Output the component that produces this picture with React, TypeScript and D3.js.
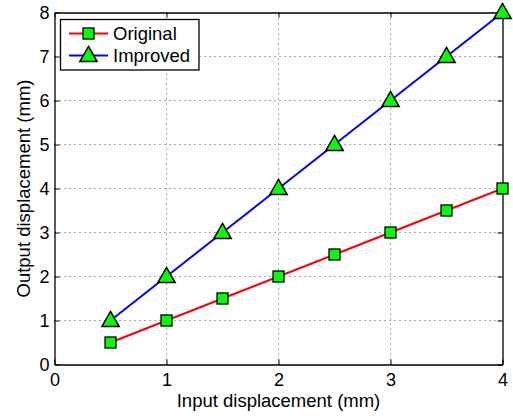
import React, { useEffect, useRef } from 'react';
import * as d3 from 'd3';

const inputs = [0.5, 1, 1.5, 2, 2.5, 3, 3.5, 4];
const original = [0.5, 1, 1.5, 2, 2.5, 3, 3.5, 4];
const improved = [1, 2, 3, 4, 5, 6, 7, 8];
const xTicks = [0, 1, 2, 3, 4];
const yTicks = [0, 1, 2, 3, 4, 5, 6, 7, 8];

const W = 513;
const H = 416;
const m = { left: 54.5, right: 10.5, top: 12.5, bottom: 51.5 };
const font = 'Liberation Sans, Arial, sans-serif';

const App = () => {
  const ref = useRef<SVGSVGElement>(null);

  useEffect(() => {
    const svg = d3.select(ref.current);
    svg.selectAll('*').remove();

    const x = d3.scaleLinear().domain([0, 4]).range([m.left, W - m.right]);
    const y = d3.scaleLinear().domain([0, 8]).range([H - m.bottom, m.top]);
    const g = svg.append('g');

    // dotted grid
    g.selectAll('line.gx').data(xTicks.slice(1, -1)).enter().append('line')
      .attr('x1', d => x(d)).attr('x2', d => x(d))
      .attr('y1', y(0)).attr('y2', y(8))
      .attr('stroke', '#555').attr('stroke-width', 1).attr('stroke-dasharray', '1,4');
    g.selectAll('line.gy').data(yTicks.slice(1, -1)).enter().append('line')
      .attr('y1', d => y(d)).attr('y2', d => y(d))
      .attr('x1', x(0)).attr('x2', x(4))
      .attr('stroke', '#555').attr('stroke-width', 1).attr('stroke-dasharray', '1,4');

    // axes (ticks point inward, mirrored on top/right)
    const fmt = d3.format('d');
    const bottom = g.append('g').attr('transform', `translate(0,${y(0)})`)
      .call(d3.axisBottom(x).tickValues(xTicks).tickFormat(fmt).tickSizeInner(-5).tickSizeOuter(0).tickPadding(9));
    const left = g.append('g').attr('transform', `translate(${x(0)},0)`)
      .call(d3.axisLeft(y).tickValues(yTicks).tickFormat(fmt).tickSizeInner(-5).tickSizeOuter(0).tickPadding(5));
    g.append('g').attr('transform', `translate(0,${y(8)})`)
      .call(d3.axisTop(x).tickValues(xTicks).tickSizeInner(-5).tickSizeOuter(0).tickFormat(() => ''));
    g.append('g').attr('transform', `translate(${x(4)},0)`)
      .call(d3.axisRight(y).tickValues(yTicks).tickSizeInner(-5).tickSizeOuter(0).tickFormat(() => ''));

    g.selectAll('.domain').attr('stroke', '#000').attr('stroke-width', 1.3);
    g.selectAll('.tick line').attr('stroke', '#000');
    [bottom, left].forEach(a => a.selectAll('text')
      .attr('font-family', font).attr('font-size', 18).attr('fill', '#000'));

    const line = d3.line<[number, number]>().x(d => x(d[0])).y(d => y(d[1]));
    const tri = d3.symbol().type(d3.symbolTriangle).size(130);

    const series = [
      { name: 'Original', vals: original, color: '#ff0000', marker: 'square' },
      { name: 'Improved', vals: improved, color: '#0000ff', marker: 'triangle' },
    ];

    const drawMarker = (sel: any, kind: string, cx: number, cy: number) => {
      if (kind === 'square') {
        sel.append('rect').attr('x', cx - 5.5).attr('y', cy - 5.5)
          .attr('width', 11).attr('height', 11)
          .attr('fill', '#00ff00').attr('stroke', '#000').attr('stroke-width', 1.3);
      } else {
        sel.append('path').attr('d', tri)
          .attr('transform', `translate(${cx},${cy + 1})`)
          .attr('fill', '#00ff00').attr('stroke', '#000').attr('stroke-width', 1.5);
      }
    };

    series.forEach(s => {
      const pts = inputs.map((v, i) => [v, s.vals[i]] as [number, number]);
      g.append('path').attr('d', line(pts)).attr('fill', 'none')
        .attr('stroke', s.color).attr('stroke-width', 2);
      pts.forEach(p => drawMarker(g, s.marker, x(p[0]), y(p[1])));
    });

    // legend
    const lg = g.append('g');
    lg.append('rect').attr('x', 60.5).attr('y', 19.5).attr('width', 138.5).attr('height', 50.5)
      .attr('fill', '#fff').attr('stroke', '#000').attr('stroke-width', 1.3);
    series.forEach((s, i) => {
      const ly = 33.5 + i * 22;
      lg.append('line').attr('x1', 69).attr('x2', 108).attr('y1', ly).attr('y2', ly)
        .attr('stroke', s.color).attr('stroke-width', 2);
      drawMarker(lg, s.marker, 88.5, ly);
      lg.append('text').attr('x', 113).attr('y', ly + 6.5).text(s.name)
        .attr('font-family', font).attr('font-size', 18.5).attr('fill', '#000');
    });

    // axis titles
    g.append('text').attr('x', (x(0) + x(4)) / 2).attr('y', 407)
      .attr('text-anchor', 'middle').attr('font-family', font).attr('font-size', 18.5)
      .text('Input displacement (mm)');
    g.append('text').attr('transform', `translate(30,${(y(0) + y(8)) / 2}) rotate(-90)`)
      .attr('text-anchor', 'middle').attr('font-family', font).attr('font-size', 18.5)
      .text('Output displacement (mm)');
  }, []);

  return (
    <svg ref={ref} width={W} height={H}
      style={{ position: 'absolute', left: 0, top: 0, background: '#fff' }} />
  );
};

export default App;
